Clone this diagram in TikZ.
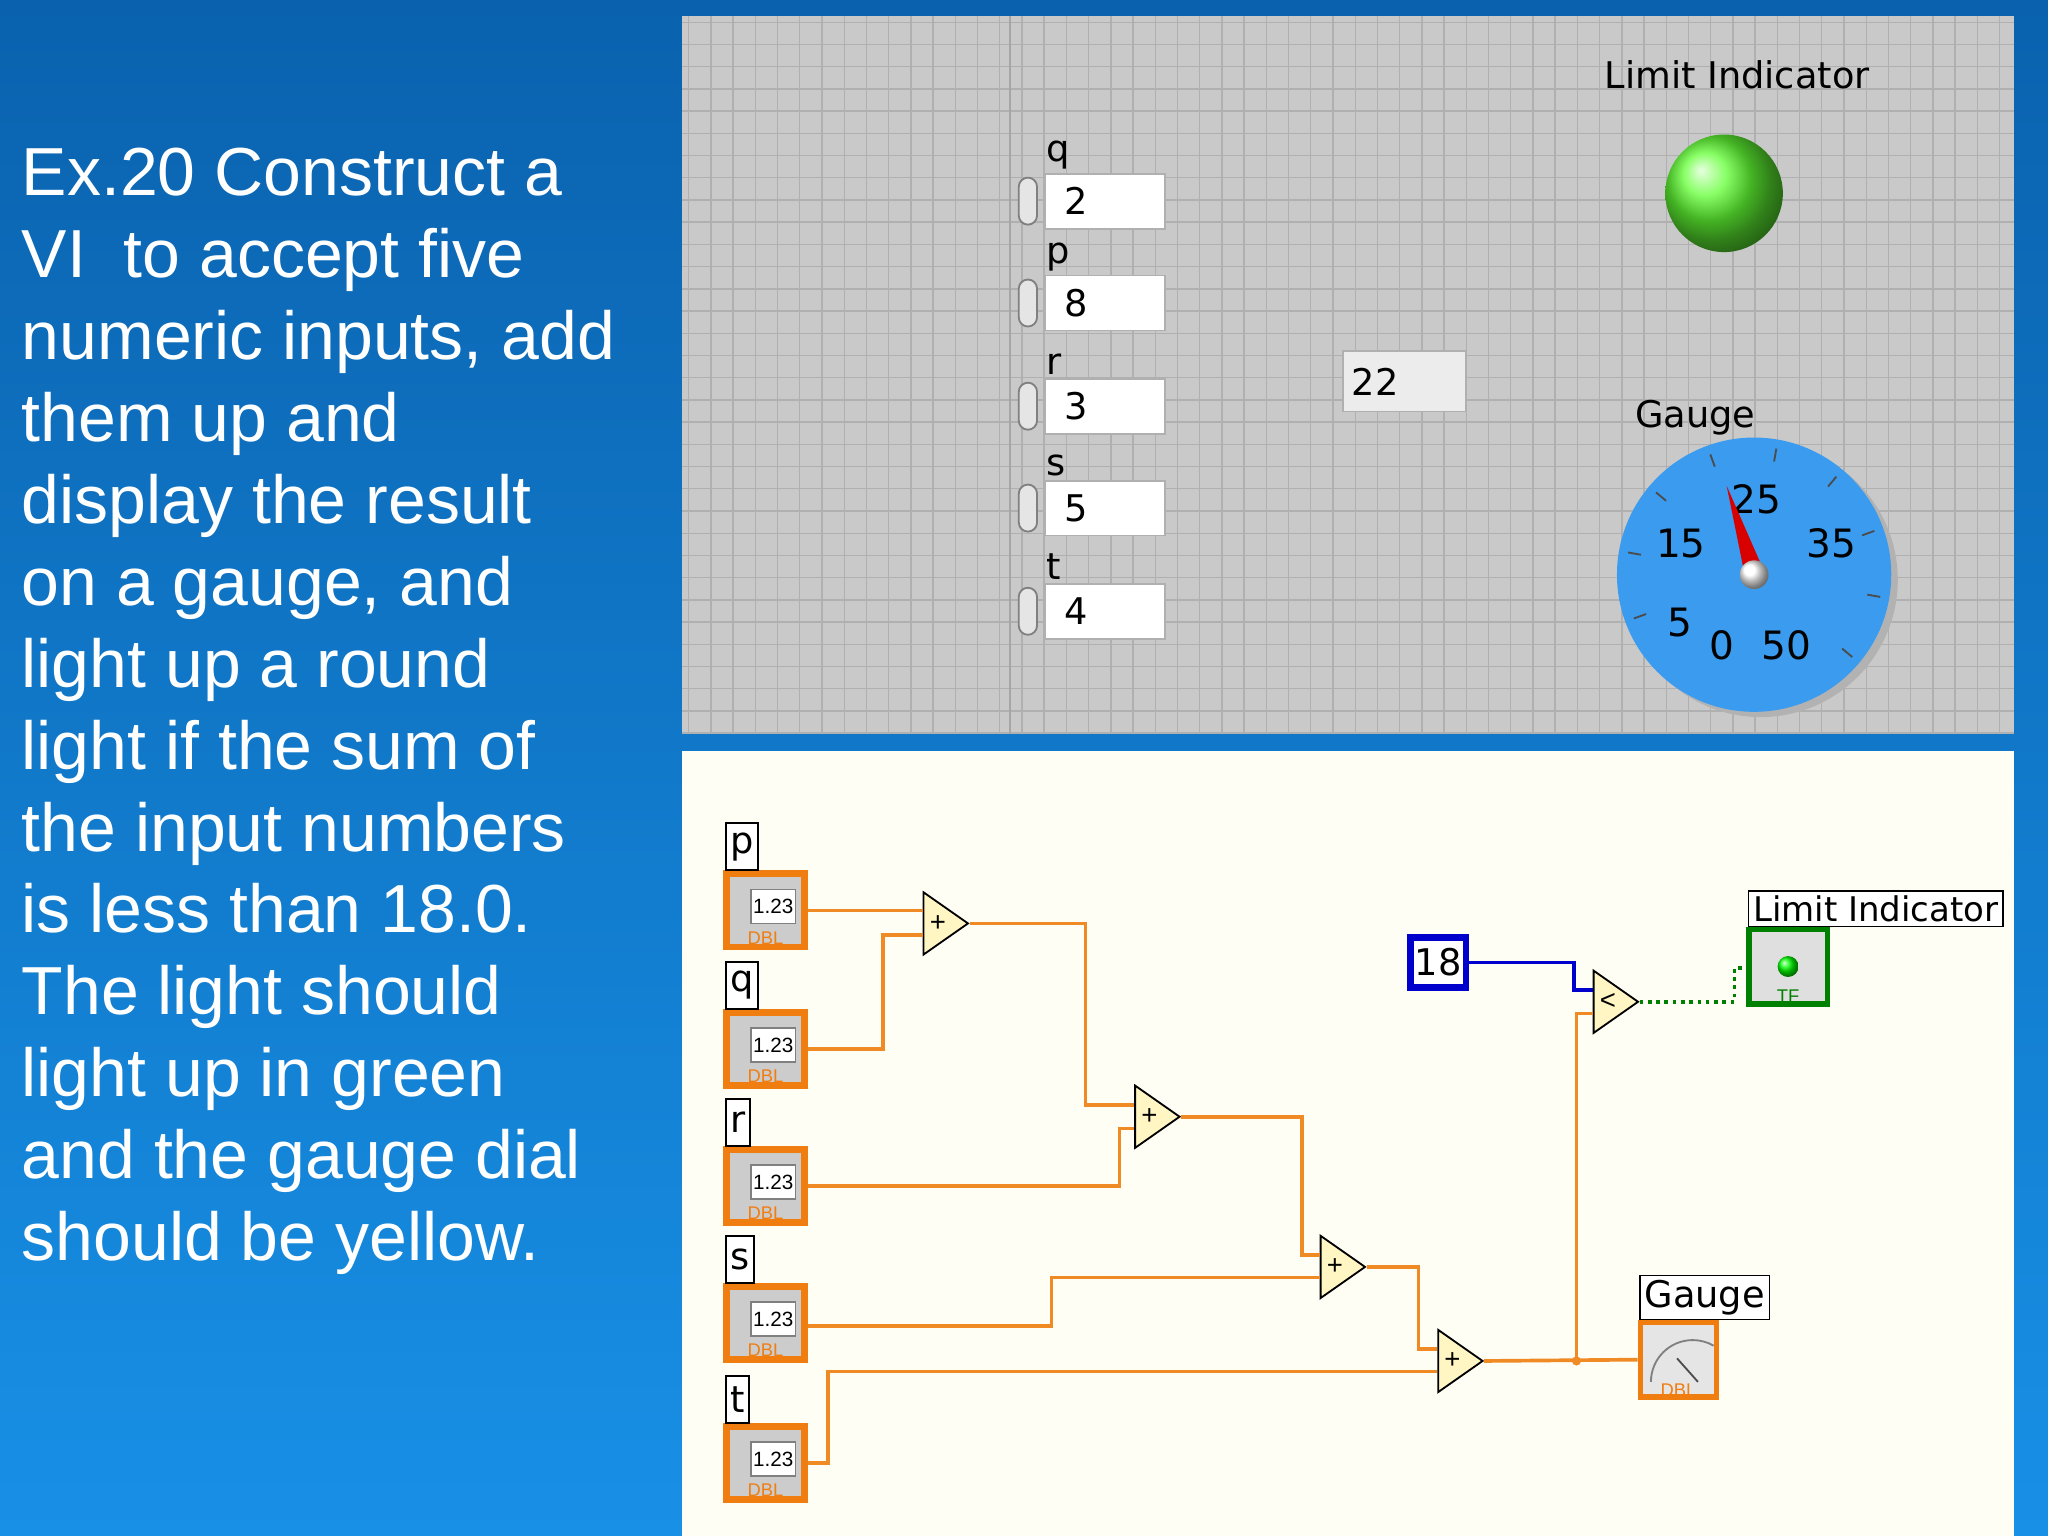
\documentclass[tikz,border=0pt]{standalone}
\usepackage{fontspec}
\setmainfont{Liberation Sans}
\newfontfamily\lvfont{DejaVu Sans}
\usetikzlibrary{shapes.geometric}
\definecolor{bgtop}{HTML}{0A62AE}
\definecolor{bgbot}{HTML}{1890E6}
\definecolor{panel}{HTML}{C9C9C9}
\definecolor{gridc}{HTML}{B0B0B0}
\definecolor{wire}{HTML}{F08A24}
\definecolor{term}{HTML}{F07D10}
\definecolor{addf}{HTML}{FFF6C4}
\definecolor{dial}{HTML}{3A9BEF}
\tikzset{
  ctl/.style={draw=gridc,fill=white,minimum width=0.92cm,minimum height=0.42cm,inner sep=0pt,font=\lvfont\fontsize{8}{9}\selectfont,text width=0.8cm,align=left},
  lbl/.style={font=\lvfont\fontsize{8}{9}\selectfont,inner sep=1pt},
  tterm/.style={draw=term,line width=1.5pt,fill=gray!40,minimum width=0.6cm,minimum height=0.56cm,inner sep=0pt},
  tlabel/.style={draw=black,fill=white,font=\lvfont\fontsize{8}{9}\selectfont,inner sep=1pt},
  adder/.style={isosceles triangle,isosceles triangle apex angle=70,draw=black,fill=addf,minimum height=0.34cm,inner sep=0pt,font=\fontsize{6}{6}\selectfont},
  w/.style={wire,line width=0.8pt},
}
\begin{document}
\begin{tikzpicture}[x=0.01cm,y=-0.01cm]
\useasboundingbox (0,0) rectangle (1568,1176);
\shade[top color=bgtop,bottom color=bgbot] (0,0) rectangle (1568,1176);
% left text
\foreach \t [count=\i] in {Ex.20 Construct a,VI\ \ to accept five,{numeric inputs, add},them up and,display the result,{on a gauge, and},light up a round,light if the sum of,the input numbers,is less than 18.0.,The light should,light up in green,and the gauge dial,should be yellow.}
  \node[anchor=base west,text=white,font=\fontsize{14.8}{17}\selectfont,inner sep=0pt] (L\i) at (16,{150+62.7*(\i-1)}) {\t};
% front panel
\fill[panel] (522,12) rectangle (1542,562);
\begin{scope}
\clip (522,12) rectangle (1542,562);
\draw[gridc,line width=0.3pt,step=0.17cm] (522,12) grid (1542,562);
\end{scope}
\draw[gray!70] (773,12) -- (773,562);
\foreach \n/\v/\y in {q/2/154,p/8/232,r/3/311,s/5/389,t/4/468}{
  \node[ctl] (c\n) at (846,\y) {\ \v};
  \node[lbl,anchor=south west] (l\n) at (797,{\y-20}) {\n};
  \node[draw=gray,fill=gray!20,rounded corners=2pt,minimum width=0.14cm,minimum height=0.36cm,inner sep=0pt] (sp\n) at (787,\y) {};
}
\node[draw=gridc,fill=gray!15,minimum width=0.94cm,minimum height=0.46cm,inner sep=2pt,font=\lvfont\fontsize{8}{9}\selectfont,text width=0.8cm,align=left] (sum) at (1075,292) {22};
\node[lbl] (limlab) at (1330,57) {Limit Indicator};
\shade[ball color=green!70!lime!80!white] (1320,148) circle (45);
\node[draw=none,circle,minimum size=0.9cm] (led) at (1320,148) {};
\node[lbl] (gaugelab) at (1298,320) {Gauge};
\fill[gray!60] (1348,444) circle (105);
\fill[dial] (1343,440) circle (105);
\foreach \a in {-40,-10,...,220} \draw[black!70] (1343,440) ++({-\a}:98) -- ++({-\a}:-10);
\foreach \txt/\x/\y in {0/1318/494,5/1286/477,15/1287/416,25/1345/382,35/1402/416,50/1368/494}
  \node[lbl,font=\lvfont\fontsize{8.5}{9}\selectfont] at (\x,\y) {\txt};
\fill[red!85!black] (1336,441) -- (1322,372) -- (1350,436) -- cycle;
\shade[ball color=white] (1343,440) circle (11);
% block diagram
\fill[white!96!yellow] (522,575) rectangle (1542,1176);
\foreach \n/\y in {p/697,q/803,r/908,s/1013,t/1120}{
  \node[tterm] (T\n) at (586,\y) {};
  \node[draw=gray,fill=white,minimum width=0.34cm,minimum height=0.26cm,inner sep=0pt,font=\fontsize{4.5}{5}\selectfont] at (592,{\y-3}) {1.23};
  \node[font=\fontsize{4}{4}\selectfont,text=term,inner sep=0pt] at (586,{\y+21}) {DBL};
  \node[tlabel,anchor=south west,minimum height=0.36cm] (tl\n) at (555,{\y-30}) {\n};
}
\node[adder] (A1) at (718,707) {+};
\node[adder] (A2) at (880,855) {+};
\node[adder] (A3) at (1022,970) {+};
\node[adder] (A4) at (1112,1042) {+};
\node[adder] (CMP) at (1231,767) {<};
\node[draw=blue!80!black,line width=1.5pt,fill=white,minimum width=0.42cm,minimum height=0.38cm,inner sep=1pt,font=\lvfont\fontsize{8}{9}\selectfont] (K) at (1101,737) {18};
\node[draw=green!50!black,line width=1.2pt,fill=gray!25,minimum width=0.6cm,minimum height=0.57cm] (LEDT) at (1369,740) {};
\shade[ball color=green] (1369,740) circle (8);
\node[font=\fontsize{4}{4}\selectfont,text=green!50!black,inner sep=0pt] at (1369,763) {TF};
\node[tlabel,anchor=south west,font=\lvfont\fontsize{7.4}{9}\selectfont] (LEDL) at (1338,710) {Limit Indicator};
\node[draw=term,line width=1.2pt,fill=gray!20,minimum width=0.58cm,minimum height=0.57cm] (GT) at (1285,1041) {};
\draw[gray] (1264,1058) arc (180:300:32);
\draw[gray!60!black] (1300,1058) -- (1284,1040);
\node[font=\fontsize{4}{4}\selectfont,text=term,inner sep=0pt] at (1285,1064) {DBL};
\node[tlabel,anchor=south west] (GL) at (1255,1011) {Gauge};
\coordinate (J) at (1207,1042);
% wires
\draw[w] (Tp.east |- 0,697) -- (A1.west |- 0,697);
\draw[w] (Tq.east) -- (676,803) -- (676,716) -- (A1.west |- 0,716);
\draw[w] (A1.apex) -- (831,707) -- (831,846) -- (A2.west |- 0,846);
\draw[w] (Tr.east) -- (857,908) -- (857,864) -- (A2.west |- 0,864);
\draw[w] (A2.apex) -- (997,855) -- (997,961) -- (A3.west |- 0,961);
\draw[w] (Ts.east |- 0,1015) -- (805,1015) -- (805,978) -- (A3.west |- 0,978);
\draw[w] (A3.apex) -- (1086,970) -- (1086,1033) -- (A4.west |- 0,1033);
\draw[w] (Tt.east) -- (634,1120) -- (634,1050) -- (A4.west |- 0,1050);
\draw[w] (A4.apex) -- (GT.west);
\fill[wire] (J) circle (3.5);
\draw[w] (J) -- (1207,776) -- (CMP.west |- 0,776);
\draw[blue!80!black,line width=0.8pt] (K.east) -- (1205,737) -- (1205,758) -- (CMP.west |- 0,758);
\draw[green!50!black,densely dotted,line width=0.8pt] (CMP.apex) -- (1328,767) -- (1328,741) -- (LEDT.west |- 0,741);
\end{tikzpicture}
\end{document}
